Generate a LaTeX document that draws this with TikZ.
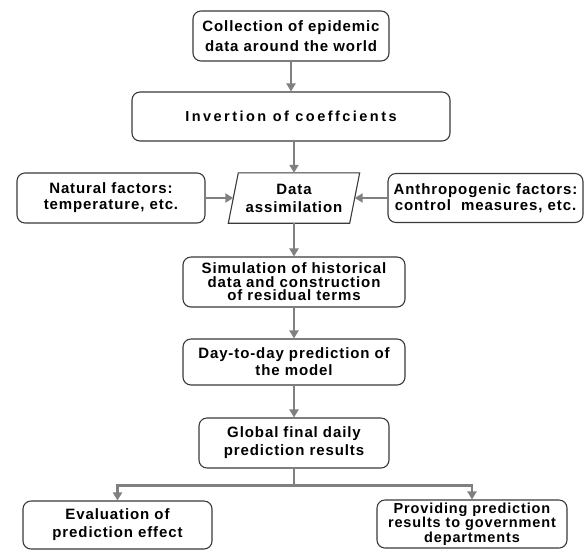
\documentclass[tikz,border=0pt]{standalone}
\usepackage{fontspec}
\setmainfont{Liberation Sans}
\newfontfamily\lsp{Liberation Sans}[LetterSpace=6]
\newfontfamily\lspw{Liberation Sans}[LetterSpace=17]
\usetikzlibrary{arrows.meta,calc}
\definecolor{arrgray}{HTML}{808080}
\definecolor{edgegray}{HTML}{3A3A3A}
\newcommand{\fsz}[2]{\fontsize{#1}{#2}\selectfont}
\begin{document}
\begin{tikzpicture}[x=1pt,y=-1pt,
  box/.style={draw=edgegray, line width=1.1pt, rounded corners=8pt, align=center, inner sep=0pt},
  edge/.style={draw=edgegray, line width=1.1pt},
  arr/.style={draw=arrgray, line width=2.6pt, -{Triangle[length=8pt,width=9pt]}},
  ]
\fill[white] (0,0) rectangle (585,550);
\useasboundingbox (0,0) rectangle (585,550);

\node[box, minimum width=196pt, minimum height=50pt, font=\lsp\bfseries\fsz{15}{20}] (b1) at (291,36) {Collection of epidemic\\data around the world};
\node[box, minimum width=318pt, minimum height=49pt, font=\lspw\bfseries\fsz{14.5}{18}] (b2) at (291,116.5) {Invertion of coeffcients};
\node[box, minimum width=188pt, minimum height=50pt, font=\lsp\bfseries\fsz{15}{16}] (nat) at (111,198) {Natural factors:\\temperature, etc.};
\node[draw=none, minimum width=121pt, minimum height=50pt, inner sep=0pt, align=center, font=\lsp\bfseries\fsz{15}{18}] (para) at (294,198) {Data\\assimilation};
\draw[edge] ($(para.north west)+(5,0)$) -- ($(para.north east)+(5,0)$) -- ($(para.south east)+(-5,0)$) -- ($(para.south west)+(-5,0)$) -- cycle;
\node[box, minimum width=195pt, minimum height=49pt, font=\lsp\bfseries\fsz{15}{16}] (anth) at (485.5,198) {Anthropogenic factors:\\control\ \ measures, etc.};
\node[box, minimum width=222pt, minimum height=50pt, font=\lsp\bfseries\fsz{15}{13.5}] (sim) at (294,282) {Simulation of historical\\data and construction\\of residual terms};
\node[box, minimum width=222pt, minimum height=46pt, font=\lsp\bfseries\fsz{15}{17}] (day) at (294,362) {Day-to-day prediction of\\the model};
\node[box, minimum width=190pt, minimum height=50pt, font=\lsp\bfseries\fsz{15}{18}] (glob) at (294,443) {Global final daily\\prediction results};
\node[box, minimum width=189pt, minimum height=48pt, font=\lsp\bfseries\fsz{15}{18}] (eval) at (117.5,525) {Evaluation of\\prediction effect};
\node[box, minimum width=190pt, minimum height=48pt, font=\lsp\bfseries\fsz{14.5}{12}] (prov) at (472,524) {Providing prediction\\results to government\\departments};

\draw[arr] (b1.south) -- (b2.north);
\draw[arr] (para.north |- b2.south) -- (para.north);
\draw[arr] (nat.east) -- (para.west);
\draw[arr] (anth.west) -- (para.east);
\draw[arr] (para.south) -- (sim.north);
\draw[arr] (sim.south) -- (day.north);
\draw[arr] (day.south) -- (glob.north);
\draw[arr] (glob.south) -- ++(0,17) -| (eval.north);
\draw[arr] (glob.south) -- ++(0,17) -| (prov.north);
\end{tikzpicture}
\end{document}
